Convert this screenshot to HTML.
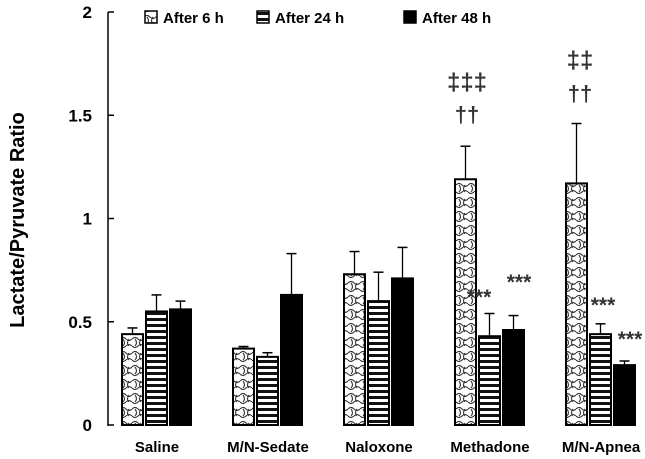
<!DOCTYPE html>
<html><head><meta charset="utf-8"><style>
body{margin:0;background:#fff}
svg{display:block;font-family:"Liberation Sans",sans-serif}
</style></head><body>
<svg id="chart" width="645" height="459" viewBox="0 0 645 459">
<defs>
<pattern id="wavy" width="12" height="14" patternUnits="userSpaceOnUse">
<rect width="12" height="14" fill="#fff"/>
<path d="M0 3 Q3 0 6 3 T12 3 M3 3 Q6 7 3 10 M9 3 Q6 7 9 10 M0 10 Q3 13 6 10 T12 10" fill="none" stroke="#333" stroke-width="1.1"/>
</pattern>
<pattern id="stripes" width="6" height="6" patternUnits="userSpaceOnUse">
<rect width="6" height="6" fill="#fff"/>
<rect y="0" width="6" height="3" fill="#111"/>
</pattern>
</defs>
<g id="axes"></g>
<g id="bars"></g>
<g id="legend"></g>
<text x="24" y="220" transform="rotate(-90 24 220)" text-anchor="middle" font-size="20" font-weight="bold">Lactate/Pyruvate Ratio</text>
</svg>
<script>
const categories=["Saline","M/N-Sedate","Naloxone","Methadone","M/N-Apnea"];
const series=["After 6 h","After 24 h","After 48 h"];
const v6=[0.44,0.37,0.73,1.19,1.17];
const e6=[0.03,0.01,0.11,0.16,0.29];
const v24=[0.55,0.33,0.60,0.43,0.44];
const e24=[0.08,0.02,0.14,0.11,0.05];
const v48=[0.56,0.63,0.71,0.46,0.29];
const e48=[0.04,0.20,0.15,0.07,0.02];
const yTicks=[0,0.5,1,1.5,2];
const yTickLabels=["0","0.5","1","1.5","2"];
const NS="http://www.w3.org/2000/svg";
const y0=425,y1=12,xL=108;
function yS(v){return y0-(v/2)*(y0-y1);}
function xC(i){return 157+i*111;}
function mk(tag,attrs,parent){const e=document.createElementNS(NS,tag);for(const k in attrs)e.setAttribute(k,attrs[k]);parent.appendChild(e);return e;}
const axes=document.getElementById('axes'),bars=document.getElementById('bars'),legend=document.getElementById('legend');
let l=mk('line',{x1:xL,y1:y1,x2:xL,y2:y0+1,stroke:'#000','stroke-width':1.5},axes);


yTicks.forEach((t,i)=>{
 const tk=mk('line',{x1:xL,x2:xL+6,y1:yS(t),y2:yS(t),stroke:'#000','stroke-width':1.5},axes);
 
 
 const tx=mk('text',{x:xL-16,y:yS(t)+6,'text-anchor':'end','font-size':17,'font-weight':'bold'},axes);
 tx.textContent=yTickLabels[i];
 
 
});
categories.forEach((c,i)=>{
 const tx=mk('text',{x:xC(i),y:452,'text-anchor':'middle','font-size':15,'font-weight':'bold'},axes);
 tx.textContent=c;
 
 
});
const vals=[v6,v24,v48],errs=[e6,e24,e48],fills=['url(#wavy)','url(#stripes)','#000'];
const bw=21;
categories.forEach((c,i)=>{
 for(let s=0;s<3;s++){
  const x=xC(i)-35+s*24;
  const v=vals[s][i],e=errs[s][i];
  const el=mk('line',{x1:x+bw/2,x2:x+bw/2,y1:yS(v),y2:yS(v+e),stroke:'#000','stroke-width':1.3},bars);
  
  
  const cap=mk('line',{x1:x+bw/2-5,x2:x+bw/2+5,y1:yS(v+e),y2:yS(v+e),stroke:'#000','stroke-width':1.5},bars);
  
  
  const r=mk('rect',{x:x,y:yS(v),width:bw,height:y0-yS(v),fill:fills[s],stroke:'#000','stroke-width':2},bars);
  
  
 }
});
const lx=[145,257,404];
series.forEach((s,i)=>{
 const r=mk('rect',{x:lx[i],y:11,width:12,height:12,fill:fills[i],stroke:'#000','stroke-width':1.5},legend);
 
 
 const t=mk('text',{x:lx[i]+18,y:23,'font-size':15,'font-weight':'bold'},legend);
 t.textContent=s;
 
 
});
const ann=[["‡‡‡",467,90,24],["††",467,122,22],["‡‡",580,68,24],["††",580,101,22],["***",479,304,21],["***",519,289,21],["***",603,312,21],["***",630,346,21]];
ann.forEach(a=>{
 const t=mk('text',{x:a[1],y:a[2],'text-anchor':'middle','font-size':a[3],fill:'#333','font-weight':'bold'},bars);
 t.textContent=a[0];
 
 
});
</script>
</body></html>
